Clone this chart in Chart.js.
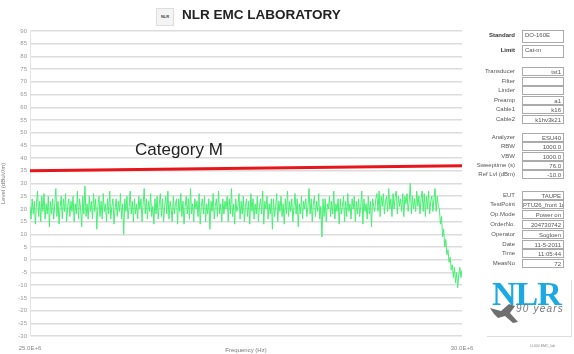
<!DOCTYPE html>
<html>
<head>
<meta charset="utf-8">
<script src="https://cdn.jsdelivr.net/npm/chart.js@4.4.1/dist/chart.umd.min.js"></script>
<style>
body{margin:0;background:#fff;font-family:"Liberation Sans",Arial,sans-serif}
#page{position:relative;width:574px;height:354px;overflow:hidden}
#chartBox{position:absolute;left:0;top:0;width:574px;height:354px}
#title{position:absolute;left:182px;top:7px;font-size:13.5px;font-weight:bold;color:#222}
#emblem{position:absolute;left:156px;top:8px;width:16px;height:16px;border:1px solid #ddd;font-size:4px;color:#444;text-align:center;line-height:16px;font-weight:bold;background:#f4f4f4}
#catM{position:absolute;left:135px;top:140px;font-size:17px;color:#222}
.lbl{position:absolute;right:59px;font-size:6px;color:#555;text-align:right;white-space:nowrap}
.lbl.b{font-weight:bold;color:#333}
.box{position:absolute;left:522px;width:42px;border:1px solid #aaa;font-size:6px;color:#555;text-align:right;padding-right:2px;box-sizing:border-box;white-space:nowrap;overflow:hidden;background:#fff}
.box.big{text-align:left;padding-left:2px}
#nlr{position:absolute;left:492px;top:275px;font-family:"Liberation Serif",serif;font-weight:bold;font-size:34px;color:#1aa9e2;letter-spacing:-1px;white-space:nowrap}
#yrs{position:absolute;left:516px;top:303px;font-style:italic;font-size:10px;color:#777;letter-spacing:1.2px;white-space:nowrap}
#logoFrame{position:absolute;left:487px;top:280px;width:84px;height:56px;border-right:1px solid #ddd;border-bottom:1px solid #ddd}
#foot{position:absolute;left:530px;top:344px;font-size:3.5px;color:#888;white-space:nowrap}
</style>
</head>
<body>
<div id="page">
  <div id="chartBox"><canvas id="myChart" width="574" height="354"></canvas></div>
  <div id="emblem">NLR</div>
  <div id="title">NLR EMC LABORATORY</div>
  <div id="catM">Category M</div>
  <div id="panel"></div>
  <div id="logoFrame"></div>
  <svg style="position:absolute;left:489px;top:302px" width="32" height="24">
    <path d="M1 6 L12 9 L20 2 L26 4 L21 11 L29 20 L24 21 L16 14 L9 16 L5 12 Z" fill="#6f6f6f"/>
  </svg>
  <div id="nlr">NLR</div>
  <div id="yrs">90 years</div>
  <div id="foot">LL000 EMC_lab</div>
</div>
<script>
// sweep
var fStart = 25e6;
var fStop = 30e6;

var level = [
  21,16,24,18,23,14,22,27,17,23,15,25,19,26,16,22,18,25,13,23,
  18,24,16,22,28,17,23,14,21,25,16,24,19,26,15,21,24,17,23,19,
  25,15,22,18,27,16,24,20,13,25,18,29,17,22,16,25,19,23,16,26,
  19,24,12,21,25,17,23,16,26,19,22,15,24,18,27,16,21,24,14,20,
  24,17,23,19,26,16,22,10,24,19,25,16,21,27,18,23,15,24,18,22,
  16,25,20,24,15,22,28,18,24,16,23,19,26,17,21,14,24,18,25,16,
  22,26,17,24,15,21,25,18,27,16,23,20,15,25,18,22,24,14,24,19,
  26,17,23,14,21,25,18,24,16,28,18,22,15,24,20,23,17,26,14,21,
  24,18,25,15,22,18,24,12,23,19,26,16,21,24,17,27,18,22,15,24,
  18,23,20,25,15,24,18,28,17,22,14,24,19,21,26,16,23,18,25,15,
  21,24,17,23,14,26,19,24,16,22,18,25,15,21,24,18,27,14,23,20,
  25,16,22,18,24,12,24,17,21,26,15,23,19,25,17,22,14,24,18,27,
  17,23,19,24,15,21,26,18,24,13,22,18,25,16,23,20,24,17,21,28,
  18,24,15,22,25,17,23,19,26,16,21,9,24,17,24,15,22,20,25,17,
  23,18,27,16,22,19,24,14,24,18,21,25,15,23,17,26,19,22,16,24,
  20,25,15,23,18,24,17,21,27,14,24,19,22,16,25,18,23,13,24,21,
  19,24,26,19,27,17,25,21,26,18,23,25,19,28,20,24,17,26,20,25,
  27,18,25,21,24,19,26,17,25,22,26,19,23,30,18,25,20,24,19,27,
  21,25,18,24,27,19,26,17,25,20,27,18,23,25,19,24,28,19,25,21,
  20,14,17,9,12,5,8,2,4,-1,1,-4,-2,-7,-3,-9,-5,-11,-6,-3,-7,-4
];

// limiet Cat-M
var limitFreq = [25e6, 30e6];
var limitLevel = [35, 37];

var yTicks = { min: -30, max: 90, step: 5 };

var panelLabels = ['Standard','Limit','Transducer','Filter','Linder','Preamp','Cable1','Cable2',
  'Analyzer','RBW','VBW','Sweeptime (s)','Ref Lvl (dBm)',
  'EUT','TestPoint','Op.Mode','OrderNo.','Operator','Date','Time','MeasNo'];
var panelValues = ['DO-160E','Cat-m','tst1','','','a1','k16','k1hv3k21',
  'ESU40','1000.0','1000.0','76.0','-10.0',
  'TAUPE','PTU26_front 1m','Power on','204730742','Sogloen','11-5-2011','11:05:44','72'];

// opbouw tabel
var punten = [];
for (var i = 0; i < level.length; i++) {
  punten.push({ x: fStart + i * (fStop - fStart) / (level.length - 1), y: level[i] });
}
var limiet = [];
for (var j = 0; j < limitFreq.length; j++) {
  limiet.push({ x: limitFreq[j], y: limitLevel[j] });
}

// paneel rechts
var rowTop = [30, 45, 67, 77, 86, 96, 105, 115, 133, 142, 152, 161, 170, 191, 200, 210, 220, 230, 240, 249, 259];
var panel = document.getElementById('panel');
for (var k = 0; k < panelLabels.length; k++) {
  var big = k < 2;
  var l = document.createElement('div');
  l.className = 'lbl' + (big ? ' b' : '');
  l.style.top = (rowTop[k] + (big ? 2 : 1)) + 'px';
  l.textContent = panelLabels[k];
  panel.appendChild(l);
  var b = document.createElement('div');
  b.className = 'box' + (big ? ' big' : '');
  b.style.top = rowTop[k] + 'px';
  b.style.height = (big ? 13 : 9) + 'px';
  b.style.lineHeight = (big ? 9 : 8) + 'px';
  b.textContent = panelValues[k];
  panel.appendChild(b);
}

let ctx = document.getElementById('myChart').getContext('2d');
let myChart = new Chart(ctx, {
  type: 'line',
  data: {
    datasets: [{
      label: 'Level',
      data: punten,
      borderColor: '#46ef72',
      borderWidth: 1,
      pointRadius: 0,
      tension: 0
    }, {
      label: 'Limit',
      data: limiet,
      borderColor: '#e8151b',
      borderWidth: 3,
      pointRadius: 0
    }]
  },
  options: {
    responsive: false,
    animation: false,
    layout: { padding: { top: 31, right: 112, left: 0, bottom: 0 } },
    plugins: { legend: { display: false }, tooltip: { enabled: false } },
    scales: {
      x: {
        type: 'linear',
        min: fStart,
        max: fStop,
        afterBuildTicks: function (axis) {
          axis.ticks = [{ value: fStart }, { value: fStop }];
        },
        afterFit: function (scale) { scale.height = 18; },
        grid: { display: false },
        border: { display: false },
        ticks: {
          maxRotation: 0,
          padding: 1,
          color: '#888',
          font: { size: 6 },
          callback: function (v) { return (v / 1e6).toFixed(1) + 'E+6'; }
        },
        title: { display: true, text: 'Frequency (Hz)', color: '#777', font: { size: 6 }, padding: 0 }
      },
      y: {
        min: yTicks.min,
        max: yTicks.max,
        afterFit: function (scale) { scale.width = 30; },
        grid: { color: '#dcdcdc', lineWidth: 1.5, drawTicks: false },
        border: { color: '#e4e4e4', width: 1 },
        ticks: { stepSize: yTicks.step, color: '#999', font: { size: 6 }, padding: 3 },
        title: { display: true, text: 'Level (dBuV/m)', color: '#777', font: { size: 6 }, padding: 0 }
      }
    }
  }
});
</script>
</body>
</html>
